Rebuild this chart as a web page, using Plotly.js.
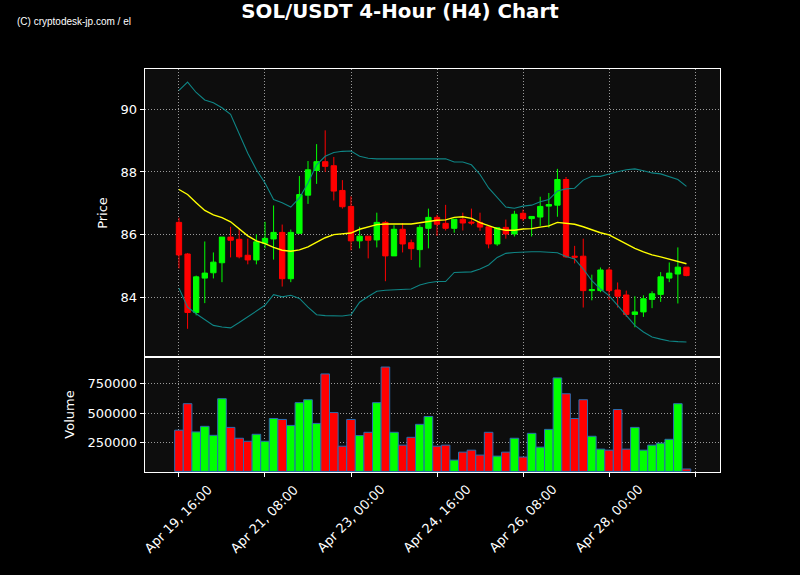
<!DOCTYPE html>
<html>
<head>
<meta charset="utf-8">
<script src="https://cdn.plot.ly/plotly-3.0.1.min.js"></script>
<style>html,body{margin:0;padding:0;background:#000;}#chart{width:800px;height:575px;}</style>
</head>
<body>
<div id="chart"></div>
<script>
const times = [
"2026-04-19 16:00","2026-04-19 20:00",
"2026-04-20 00:00","2026-04-20 04:00","2026-04-20 08:00","2026-04-20 12:00","2026-04-20 16:00","2026-04-20 20:00",
"2026-04-21 00:00","2026-04-21 04:00","2026-04-21 08:00","2026-04-21 12:00","2026-04-21 16:00","2026-04-21 20:00",
"2026-04-22 00:00","2026-04-22 04:00","2026-04-22 08:00","2026-04-22 12:00","2026-04-22 16:00","2026-04-22 20:00",
"2026-04-23 00:00","2026-04-23 04:00","2026-04-23 08:00","2026-04-23 12:00","2026-04-23 16:00","2026-04-23 20:00",
"2026-04-24 00:00","2026-04-24 04:00","2026-04-24 08:00","2026-04-24 12:00","2026-04-24 16:00","2026-04-24 20:00",
"2026-04-25 00:00","2026-04-25 04:00","2026-04-25 08:00","2026-04-25 12:00","2026-04-25 16:00","2026-04-25 20:00",
"2026-04-26 00:00","2026-04-26 04:00","2026-04-26 08:00","2026-04-26 12:00","2026-04-26 16:00","2026-04-26 20:00",
"2026-04-27 00:00","2026-04-27 04:00","2026-04-27 08:00","2026-04-27 12:00","2026-04-27 16:00","2026-04-27 20:00",
"2026-04-28 00:00","2026-04-28 04:00","2026-04-28 08:00","2026-04-28 12:00","2026-04-28 16:00","2026-04-28 20:00",
"2026-04-29 00:00","2026-04-29 04:00","2026-04-29 08:00","2026-04-29 12:00"
];
const openP = [86.39,85.38,83.51,84.61,84.78,85.10,85.92,85.85,85.34,85.19,
85.72,85.86,86.07,84.59,86.04,87.26,88.05,88.33,88.20,87.41,
86.90,85.80,85.95,85.83,86.39,85.32,86.17,85.74,85.52,86.20,
86.55,86.36,86.20,86.49,86.40,86.39,86.25,85.70,86.23,86.02,
86.68,86.51,86.56,86.91,86.94,87.76,85.31,85.31,84.21,84.21,
84.87,84.23,84.07,83.45,83.53,83.93,84.09,84.61,84.74,84.96];
const highP = [86.54,85.41,84.69,85.78,85.43,85.92,86.25,86.19,85.87,86.01,
86.41,86.93,86.32,86.16,87.87,88.35,88.89,89.33,88.48,87.74,
87.22,86.25,85.95,86.70,86.44,86.30,86.37,85.84,86.31,86.83,
86.63,86.95,86.49,86.70,86.83,86.70,86.25,86.24,86.48,86.76,
86.80,86.59,87.21,87.33,88.10,87.84,85.64,85.87,84.72,84.95,
84.95,84.47,84.21,84.03,84.06,84.19,84.80,85.11,85.59,84.96];
const lowP = [84.92,82.99,83.42,83.81,84.60,84.48,85.27,85.24,85.05,85.05,
85.56,85.20,84.34,84.48,86.04,86.98,87.62,88.00,87.09,86.83,
85.50,85.56,85.24,85.59,84.51,85.32,85.43,85.19,84.95,85.56,
85.96,86.13,86.06,86.13,86.30,86.12,85.56,85.64,85.87,85.94,
86.43,85.94,86.28,86.22,86.57,85.26,85.08,83.67,83.90,84.16,
83.92,83.67,83.37,83.04,83.37,83.65,83.85,84.48,83.80,84.67];
const closeP = [85.35,83.51,84.65,84.77,85.12,85.92,85.82,85.29,85.19,85.77,
85.88,86.07,84.59,86.07,87.28,88.07,88.33,88.18,87.39,86.89,
85.80,85.95,85.82,86.39,85.32,86.17,85.70,85.55,86.23,86.55,
86.33,86.20,86.49,86.37,86.37,86.24,85.70,86.22,86.02,86.65,
86.51,86.58,86.90,86.96,87.76,85.29,85.28,84.21,84.24,84.87,
84.21,84.03,83.45,83.53,83.95,84.11,84.65,84.77,84.96,84.69];
const volume = [353000,580000,338000,386000,309000,623000,377000,284000,258000,318000,
258000,453000,445000,394000,589000,614000,411000,835000,504000,216000,
445000,307000,335000,589000,894000,335000,225000,292000,403000,470000,
216000,225000,97000,165000,182000,140000,335000,131000,165000,284000,
123000,326000,208000,360000,801000,665000,453000,614000,301000,191000,
182000,530000,191000,377000,182000,225000,242000,275000,580000,21000];
const smaLine = [87.44,87.28,87.02,86.77,86.63,86.54,86.41,86.17,85.96,85.80,
85.71,85.59,85.50,85.47,85.51,85.61,85.75,85.90,86.00,86.03,
86.05,86.17,86.24,86.32,86.34,86.34,86.34,86.34,86.38,86.42,
86.46,86.47,86.55,86.57,86.52,86.38,86.28,86.19,86.14,86.14,
86.18,86.19,86.24,86.28,86.39,86.35,86.33,86.25,86.15,86.06,
85.99,85.85,85.69,85.56,85.45,85.35,85.29,85.22,85.16,85.07];
const upperBand = [90.61,90.87,90.54,90.30,90.21,90.05,89.84,89.24,88.60,88.07,
87.65,87.12,87.02,86.88,87.17,87.65,88.23,88.50,88.62,88.66,
88.67,88.50,88.44,88.42,88.42,88.41,88.41,88.41,88.41,88.41,
88.42,88.42,88.32,88.32,88.23,87.92,87.49,87.17,86.88,86.84,
86.91,86.94,87.05,87.12,87.39,87.46,87.48,87.74,87.86,87.86,
87.94,88.01,88.07,88.10,88.04,87.97,87.94,87.84,87.76,87.54];
const lowerBand = [84.29,83.68,83.47,83.28,83.10,83.05,83.02,83.19,83.37,83.56,
83.74,84.08,84.01,84.06,83.96,83.68,83.44,83.41,83.40,83.40,
83.44,83.84,84.02,84.19,84.22,84.24,84.25,84.26,84.39,84.46,
84.50,84.50,84.79,84.81,84.81,84.90,85.03,85.27,85.40,85.43,
85.45,85.45,85.45,85.43,85.42,85.30,85.22,84.90,84.53,84.26,
84.05,83.74,83.42,83.10,82.89,82.73,82.66,82.60,82.58,82.57];
const tickDates = ["2026-04-19 16:00","2026-04-21 08:00","2026-04-23 00:00","2026-04-24 16:00","2026-04-26 08:00","2026-04-28 00:00","2026-04-29 16:00"];
const tickLabels = ["Apr 19, 16:00","Apr 21, 08:00","Apr 23, 00:00","Apr 24, 16:00","Apr 26, 08:00","Apr 28, 00:00",""];

const UP = '#00ff00', DOWN = '#ff0000';
const volColors = closeP.map((c, i) => c >= openP[i] ? UP : DOWN);

const traces = [
  {type:'scatter', mode:'lines', x:times, y:upperBand, xaxis:'x2', yaxis:'y',
   line:{color:'#0f8585', width:1.1}, hoverinfo:'skip'},
  {type:'scatter', mode:'lines', x:times, y:lowerBand, xaxis:'x2', yaxis:'y',
   line:{color:'#0f8585', width:1.1}, hoverinfo:'skip'},
  {type:'scatter', mode:'lines', x:times, y:smaLine, xaxis:'x2', yaxis:'y',
   line:{color:'#ffff00', width:1.4}, hoverinfo:'skip'},
  {type:'candlestick', x:times, open:openP, high:highP, low:lowP, close:closeP,
   xaxis:'x2', yaxis:'y', whiskerwidth:0,
   increasing:{line:{color:UP, width:1}, fillcolor:UP},
   decreasing:{line:{color:DOWN, width:1}, fillcolor:DOWN}},
  {type:'bar', x:times, y:volume, xaxis:'x', yaxis:'y2', width:14400000,
   marker:{color:volColors, line:{color:'#2a6db0', width:1}}}
];

const gridStyle = {showgrid:true, gridcolor:'#9a9a9a', griddash:'1.2px,1.8px', gridwidth:1};
const xRange = ["2026-04-19 00:12","2026-04-30 03:36"];
const baseFont = {family:'DejaVu Sans, sans-serif', size:13, color:'#ffffff'};

const xLabelAnnotations = tickDates.map((d, i) => ({
  text: tickLabels[i], x: d, xref:'x', y:-0.1166, yref:'paper',
  xanchor:'center', yanchor:'middle', textangle:-45, showarrow:false, font:baseFont
}));

const layout = {
  width:800, height:575,
  paper_bgcolor:'#000000', plot_bgcolor:'#0d0d0d',
  margin:{l:145, r:80, t:69, b:103, pad:0},
  showlegend:false,
  bargap:0,
  boxgap:0.38, boxgroupgap:0,
  title:{text:'<b>SOL/USDT 4-Hour (H4) Chart</b>', x:0.5, xref:'container', xanchor:'center',
         y:0.981, yref:'container', yanchor:'middle',
         font:{family:'DejaVu Sans, sans-serif', size:19.8, color:'#ffffff'}},
  xaxis:Object.assign({type:'date', anchor:'y2', domain:[0,1], range:xRange,
    tickvals:tickDates, showticklabels:false,
    ticks:'outside', ticklen:4, tickcolor:'#ffffff',
    showline:true, mirror:true, linecolor:'#ffffff', linewidth:1.3, zeroline:false,
    rangeslider:{visible:false}}, gridStyle),
  xaxis2:Object.assign({type:'date', anchor:'y', matches:'x', range:xRange,
    tickvals:tickDates, showticklabels:false, ticks:'',
    showline:true, mirror:true, linecolor:'#ffffff', linewidth:1.3, zeroline:false,
    rangeslider:{visible:false}}, gridStyle),
  yaxis:Object.assign({domain:[0.2854,1], anchor:'x2', range:[82.09,91.29],
    tickvals:[84,86,88,90], tickfont:baseFont, ticks:'outside', ticklen:4, tickcolor:'#ffffff',
    showline:true, mirror:true, linecolor:'#ffffff', linewidth:1.3, zeroline:false,
    title:{text:'Price', font:baseFont, standoff:10}}, gridStyle),
  yaxis2:Object.assign({domain:[0,0.2854], anchor:'x', range:[-5000,980000],
    tickvals:[250000,500000,750000], tickformat:'d', tickfont:baseFont,
    ticks:'outside', ticklen:4, tickcolor:'#ffffff',
    showline:true, mirror:true, linecolor:'#ffffff', linewidth:1.3, zeroline:false,
    title:{text:'Volume', font:baseFont, standoff:10}}, gridStyle),
  annotations:[
    {text:'(C) cryptodesk-jp.com / el', xref:'paper', yref:'paper', x:-0.2261, y:1.119,
     xanchor:'left', yanchor:'middle', showarrow:false,
     font:{family:'Liberation Sans Narrow, Liberation Sans, sans-serif', size:10, color:'#ffffff'}}
  ].concat(xLabelAnnotations)
};

Plotly.newPlot('chart', traces, layout, {displayModeBar:false, staticPlot:true});
</script>
</body>
</html>
